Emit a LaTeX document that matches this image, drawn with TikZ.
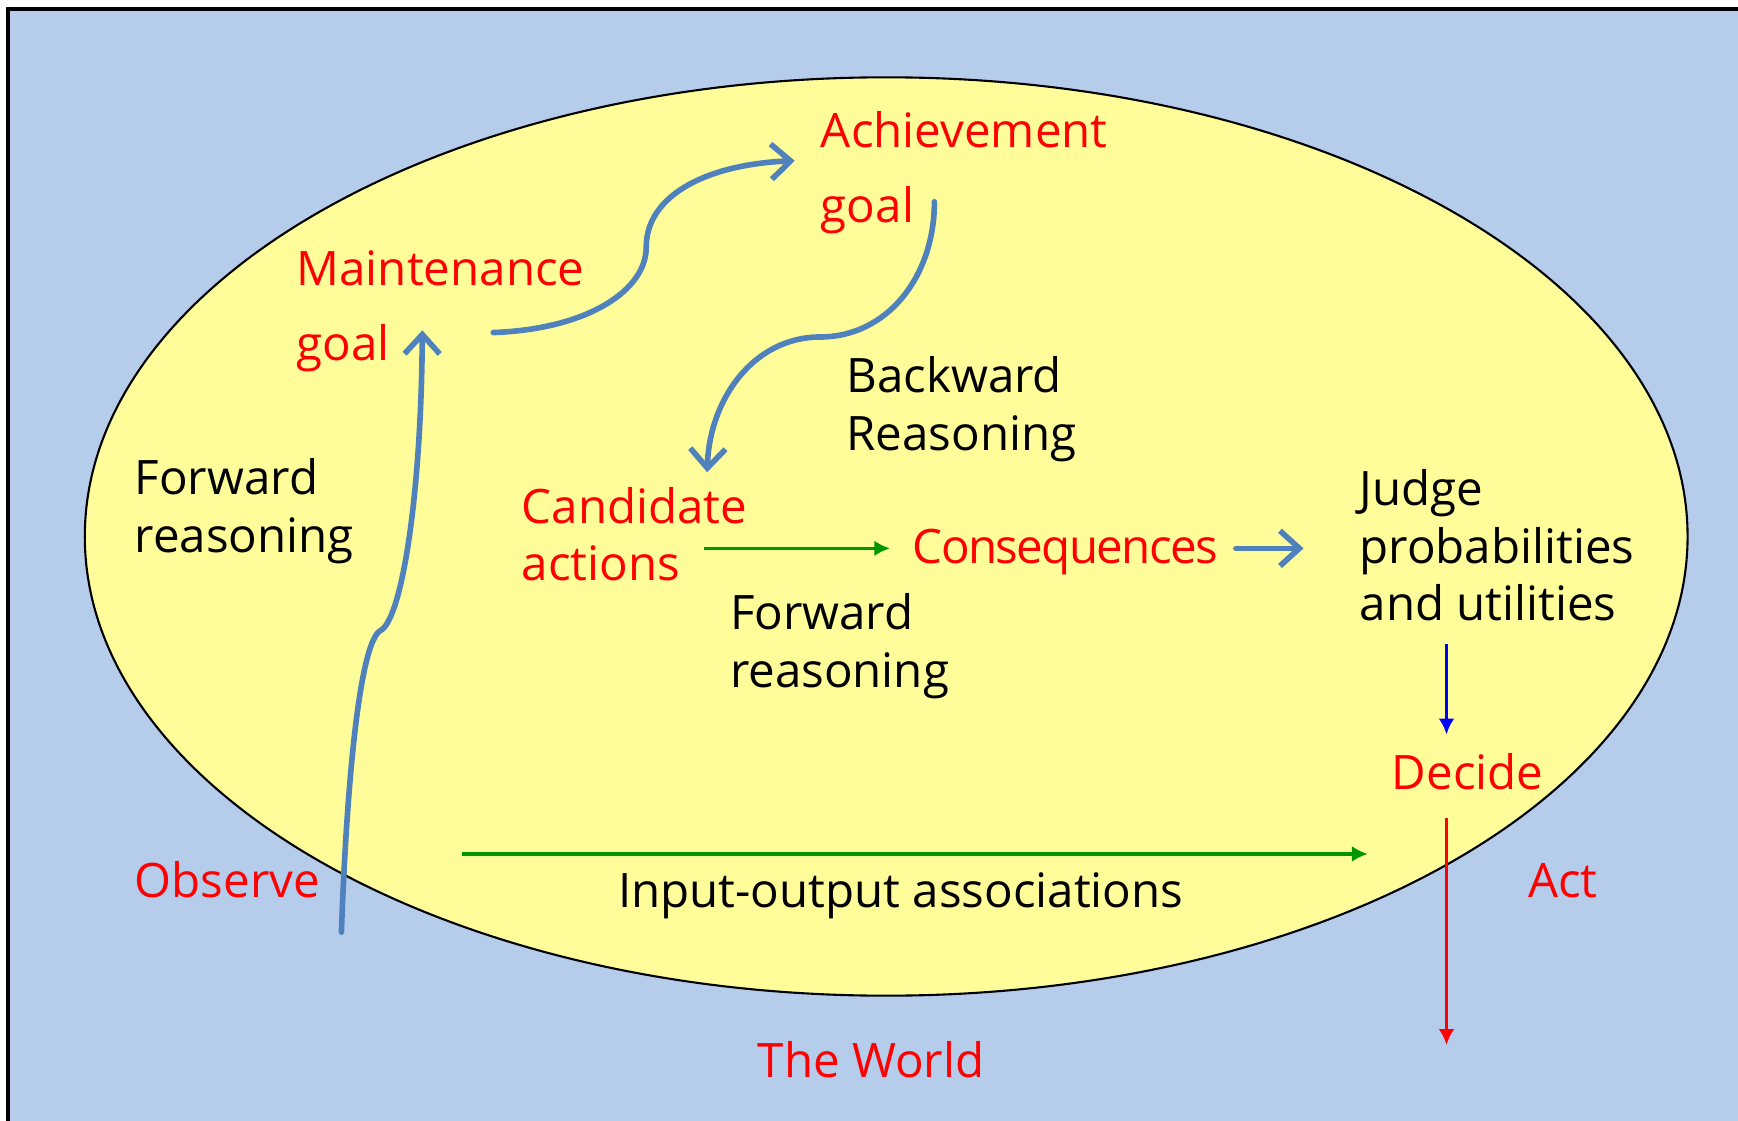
\documentclass[tikz,border=0pt]{standalone}
\usepackage{fontspec}
\setmainfont{Open Sans}
\usepackage{tikz}
\usetikzlibrary{positioning}
\usetikzlibrary{arrows.meta}
\definecolor{worldblue}{RGB}{181,205,235}
\definecolor{mindyellow}{RGB}{255,253,153}
\definecolor{linkblue}{RGB}{79,129,189}
\definecolor{fwdgreen}{RGB}{0,150,0}

\tikzset{
  redtext/.style={anchor=base west, inner sep=0pt, text=red, align=left},
  blacktext/.style={anchor=base west, inner sep=0pt, text=black, align=left},
  thicklink/.style={draw=linkblue, line width=1.6pt, line cap=round,
    -{Straight Barb[length=5.5pt,width=10pt]}},
  greenlink/.style={draw=fwdgreen, line width=1pt, -{Latex[length=4.5pt,width=4.5pt]}},
  bluelink/.style={draw=blue, line width=1pt, -{Latex[length=4.5pt,width=4.5pt]}},
  redlink/.style={draw=red, line width=1pt, -{Latex[length=4.5pt,width=4.5pt]}}
}

\begin{document}
\begin{tikzpicture}[x=0.011085cm, y=-0.011085cm,
  font=\fontsize{13.5}{16.4}\selectfont,
  >=latex]

\useasboundingbox (0,0) rectangle (1568,1011.3);

% Hintergrund (die Welt)
\draw[fill=worldblue, line width=0.9pt] (7.2,8.1) rectangle (1620,1060);

% Ellipse (der Agent)
\draw[fill=mindyellow, line width=0.6pt] (799.5,484) ellipse [x radius=8.009cm, y radius=4.589cm];

% Texte (base = letzte Zeile)
\node[redtext] (achieve) at (740,201) {Achievement\\[4.9pt]goal};
\node[redtext] (maint) at (267,325) {Maintenance\\[4.9pt]goal};
\node[blacktext] (backward) at (763,406) {Backward\\Reasoning};
\node[blacktext] (fwdleft) at (121,498) {Forward\\reasoning};
\node[redtext] (cand) at (470,524) {Candidate\\actions};
\node[redtext] (cons) at (823,508) {\addfontfeature{LetterSpace=-3.5}Consequences};
\node[blacktext] (judge) at (1226,560) {Judge\\probabilities\\and utilities};
\node[blacktext] (fwdmid) at (658,620) {Forward\\reasoning};
\node[redtext] (decide) at (1255,712) {Decide};
\node[redtext] (observe) at (121,810) {Observe};
\node[blacktext] (io) at (557,819) {Input-output associations};
\node[redtext] (act) at (1378,810) {Act};
\node[redtext] (world) at (683,972) {The World};

% Endpunkte der Pfeile
\coordinate (mg-out) at (445,300);
\coordinate (ag-in) at (717,145);
\coordinate (ag-out) at (843,182);
\coordinate (ca-in) at (638,426);
\coordinate (obs-out) at (308,841);
\coordinate (mg-in) at (381,298);
\coordinate (ca-out) at (635,494.7);
\coordinate (cons-in) at (803,494.7);
\coordinate (cons-out) at (1115,494.7);
\coordinate (judge-in) at (1176,494.7);
\coordinate (judge-out) at (1305,581);
\coordinate (dec-in) at (1305,662.6);
\coordinate (dec-out) at (1305,738);
\coordinate (act-end) at (1305,942.7);
\coordinate (io-in) at (416.6,770.4);
\coordinate (io-out) at (1234,770.4);

% blaue Kurven
\draw[thicklink] (mg-out) .. controls (530,297) and (583,262) .. (583,223)
  .. controls (583,175) and (640,148) .. (ag-in);
\draw[thicklink] (ag-out) .. controls (843,250) and (800,304) .. (740,304)
  .. controls (680,304) and (640,360) .. (ca-in);
\draw[thicklink] (obs-out) .. controls (313,700) and (325,580) .. (343,569)
  .. controls (362,560) and (380,450) .. (mg-in);
\draw[thicklink] (cons-out) -- (judge-in);

% gerade Pfeile
\draw[greenlink] (ca-out) -- (cons-in);
\draw[greenlink] (io-in) -- (io-out);
\draw[bluelink] (judge-out) -- (dec-in);
\draw[redlink] (dec-out) -- (act-end);

\end{tikzpicture}
\end{document}
